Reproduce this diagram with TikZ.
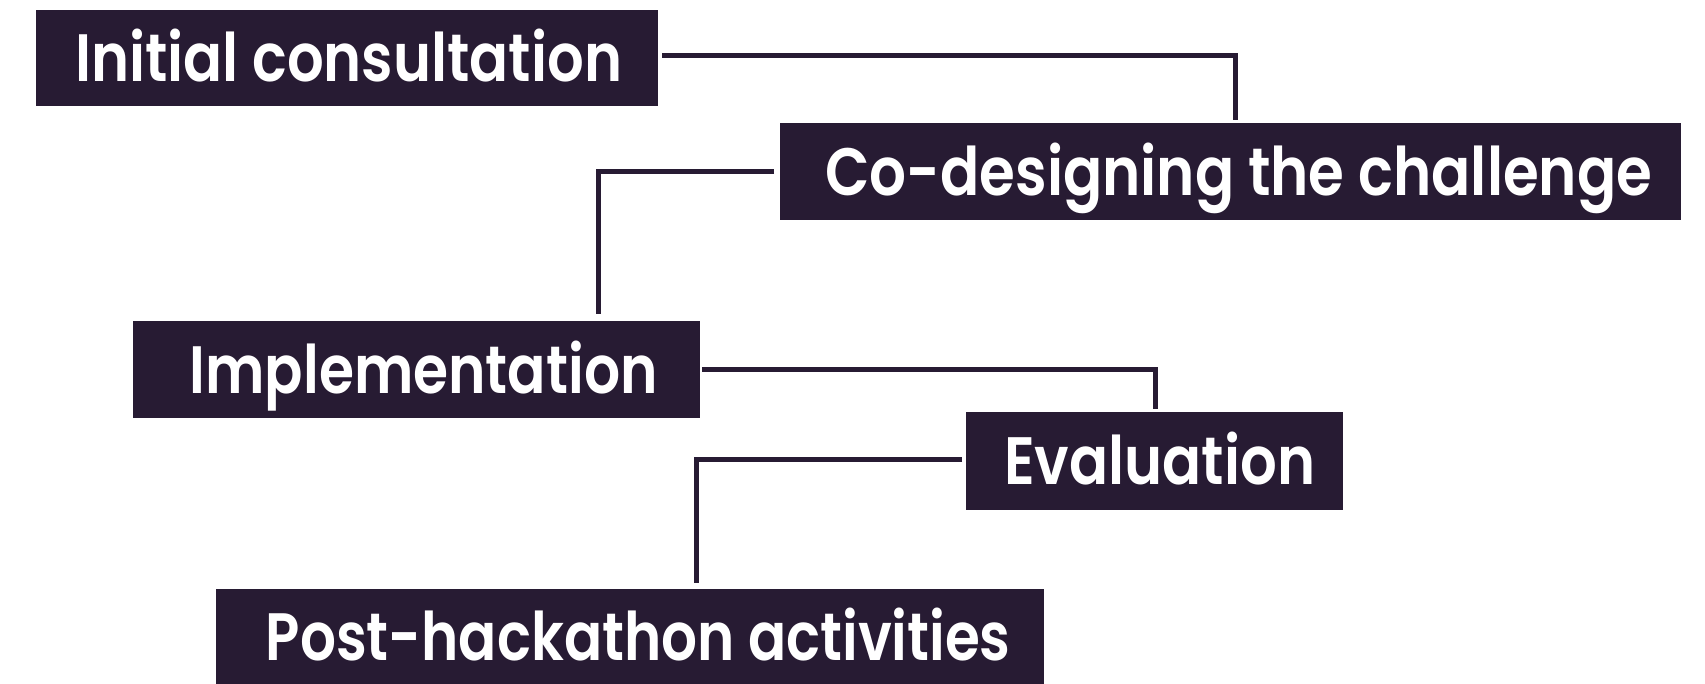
\documentclass[tikz,border=0pt]{standalone}
\usepackage{fontspec}
\setmainfont{Poppins}[BoldFont={Poppins SemiBold}]
\usepackage{graphicx}
\definecolor{ink}{HTML}{271B33}
\newcommand{\fitw}[2]{\resizebox{#1pt}{\height}{#2}}
\begin{document}
\begin{tikzpicture}[x=1pt,y=-1pt,
  stage/.style={fill=ink, text=white, inner sep=0pt, anchor=north west,
    text height=47pt, text depth=0pt, align=center,
    font=\fontsize{67}{67}\selectfont\bfseries},
  conn/.style={draw=ink, line width=5pt}]
\useasboundingbox (0,0) rectangle (1705,684);
\node[stage, minimum width=622pt, minimum height=96pt] (ic) at (36,10)
  {\hspace*{3pt}\fitw{547}{Initial consultation}};
\node[stage, minimum width=901pt, minimum height=97pt] (co) at (780,123)
  {\hspace*{16pt}\fitw{827}{Co-designing the challenge}};
\node[stage, minimum width=567pt, minimum height=97pt] (im) at (133,321)
  {\hspace*{14pt}\fitw{468}{Implementation}};
\node[stage, minimum width=377pt, minimum height=98pt] (ev) at (966,412)
  {\hspace*{10pt}\fitw{311}{Evaluation}};
\node[stage, minimum width=828pt, minimum height=96pt] (po) at (216,589)
  {\hspace*{16pt}\fitw{745}{Post-hackathon activities}};
\draw[conn] ([xshift=4pt,yshift=3pt]ic.east) -| ([xshift=4.5pt,yshift=3pt]co.north);
\draw[conn] ([xshift=-6pt]co.west) -| ([xshift=182pt,yshift=6.5pt]im.north);
\draw[conn] ([xshift=2pt]im.east) -| ([xshift=1pt,yshift=3pt]ev.north);
\draw[conn] ([xshift=-4pt,yshift=1.5pt]ev.west) -| ([xshift=66pt,yshift=6pt]po.north);
\end{tikzpicture}
\end{document}
